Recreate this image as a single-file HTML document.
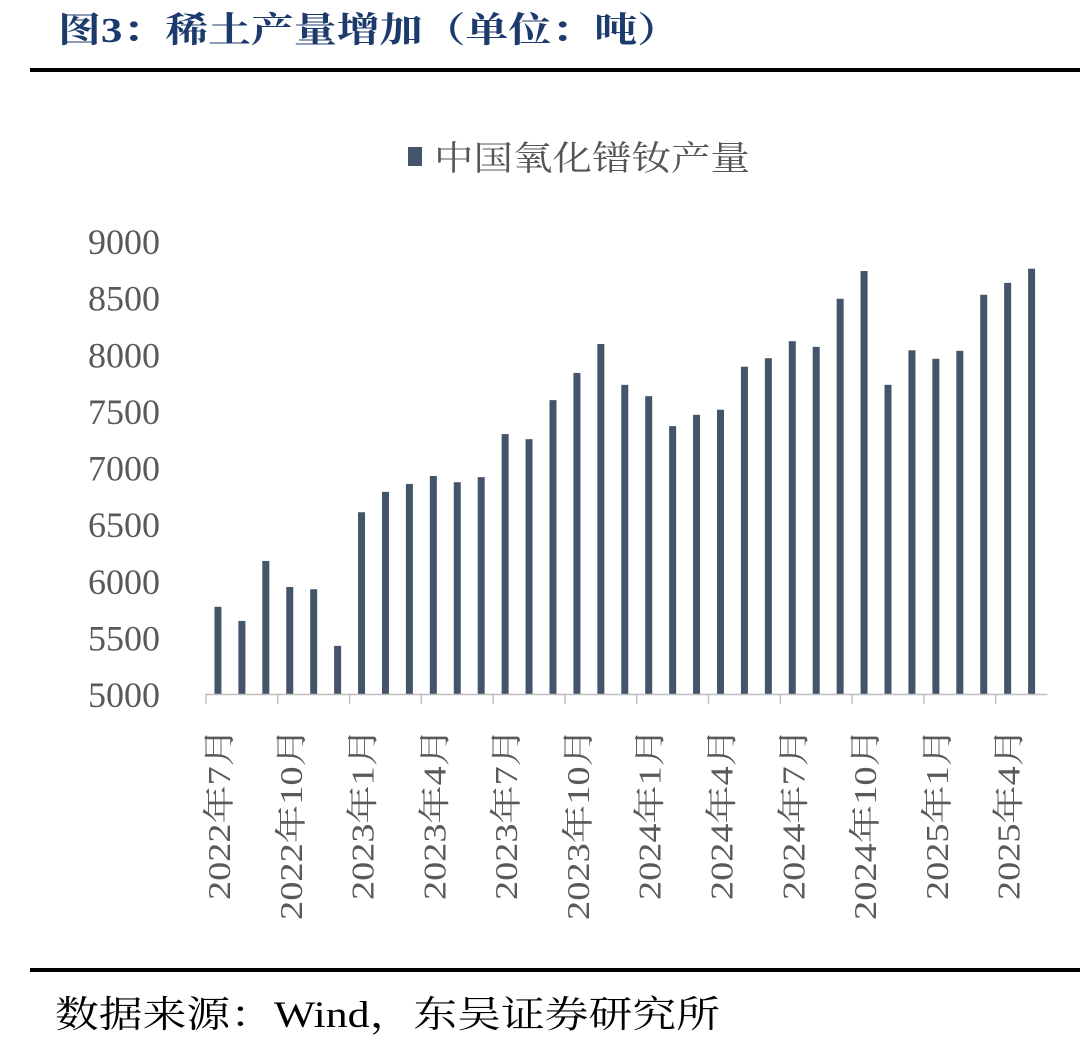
<!DOCTYPE html>
<html><head><meta charset="utf-8"><style>
body{margin:0;width:1080px;height:1042px;background:#fff;overflow:hidden;font-family:"Liberation Serif","Noto Serif CJK SC",serif;}
</style></head><body>
<svg width="1080" height="1042" xmlns="http://www.w3.org/2000/svg">
<text x="58" y="42" font-size="35" font-weight="bold" fill="#1c3a6b" textLength="622" lengthAdjust="spacingAndGlyphs" font-family="Liberation Serif, Noto Serif CJK SC, serif">图3：稀土产量增加（单位：吨）</text>
<rect x="30" y="68" width="1050" height="4" fill="#000"/>
<rect x="408" y="147" width="14" height="19" fill="#44546a"/>
<text x="434" y="170" font-size="34" fill="#555" textLength="316" lengthAdjust="spacingAndGlyphs" font-family="Noto Serif CJK SC, serif">中国氧化镨钕产量</text>
<g id="yax"></g><g id="bars"></g><g id="xax"></g>
<rect x="30" y="968" width="1050" height="4" fill="#000"/>
<text x="55" y="1027" font-size="37" fill="#000" textLength="665" lengthAdjust="spacingAndGlyphs" font-family="Liberation Serif, Noto Serif CJK SC, serif">数据来源：Wind，东吴证券研究所</text>
</svg>
<script>
const categories=["2022年7月","2022年8月","2022年9月","2022年10月","2022年11月","2022年12月","2023年1月","2023年2月","2023年3月","2023年4月","2023年5月","2023年6月","2023年7月","2023年8月","2023年9月","2023年10月","2023年11月","2023年12月","2024年1月","2024年2月","2024年3月","2024年4月","2024年5月","2024年6月","2024年7月","2024年8月","2024年9月","2024年10月","2024年11月","2024年12月","2025年1月","2025年2月","2025年3月","2025年4月","2025年5月"];
const values=[5770,5645,6175,5945,5925,5425,6605,6785,6855,6925,6870,6915,7295,7250,7595,7835,8090,7730,7630,7365,7465,7510,7890,7965,8115,8065,8490,8735,7730,8035,7960,8030,8525,8630,8755];
const yTicks=[5000,5500,6000,6500,7000,7500,8000,8500,9000];
const NS="http://www.w3.org/2000/svg";
const x0=206,step=23.93,yMin=5000,yMax=9000,yB=694,yT=241;
const xs=i=>x0+step*(i+0.5);
const ys=v=>yB-(v-yMin)/(yMax-yMin)*(yB-yT);
function mk(t,a,p){const e=document.createElementNS(NS,t);for(const k in a)e.setAttribute(k,a[k]);p.appendChild(e);return e;}
const yax=document.getElementById('yax'),bars=document.getElementById('bars'),xax=document.getElementById('xax');
yTicks.forEach(v=>{const t=mk('text',{x:160,y:ys(v)+13,'text-anchor':'end','font-size':36,fill:'#595959'},yax);t.textContent=v;

});
values.forEach((v,i)=>{const r=mk('rect',{x:xs(i)-3.5,y:ys(v),width:7,height:yB-ys(v),fill:'#44546a'},bars);

});
const ax=mk('line',{x1:x0,x2:x0+step*categories.length+4,y1:yB+0.5,y2:yB+0.5,stroke:'#bfbfbf','stroke-width':1.5},xax);


categories.forEach((c,i)=>{if(i%3)return;const x=x0+step*i;
const tk=mk('line',{x1:x,x2:x,y1:yB,y2:yB+10,stroke:'#bfbfbf','stroke-width':1.5},xax);


const len=c.length>=8?192:172;
const t=mk('text',{x:0,y:0,'text-anchor':'end','font-size':32,fill:'#595959',textLength:len,lengthAdjust:'spacingAndGlyphs',transform:`translate(${xs(i)+12},${yB+34}) rotate(-90)`},xax);t.textContent=c;

});
</script>
</body></html>
